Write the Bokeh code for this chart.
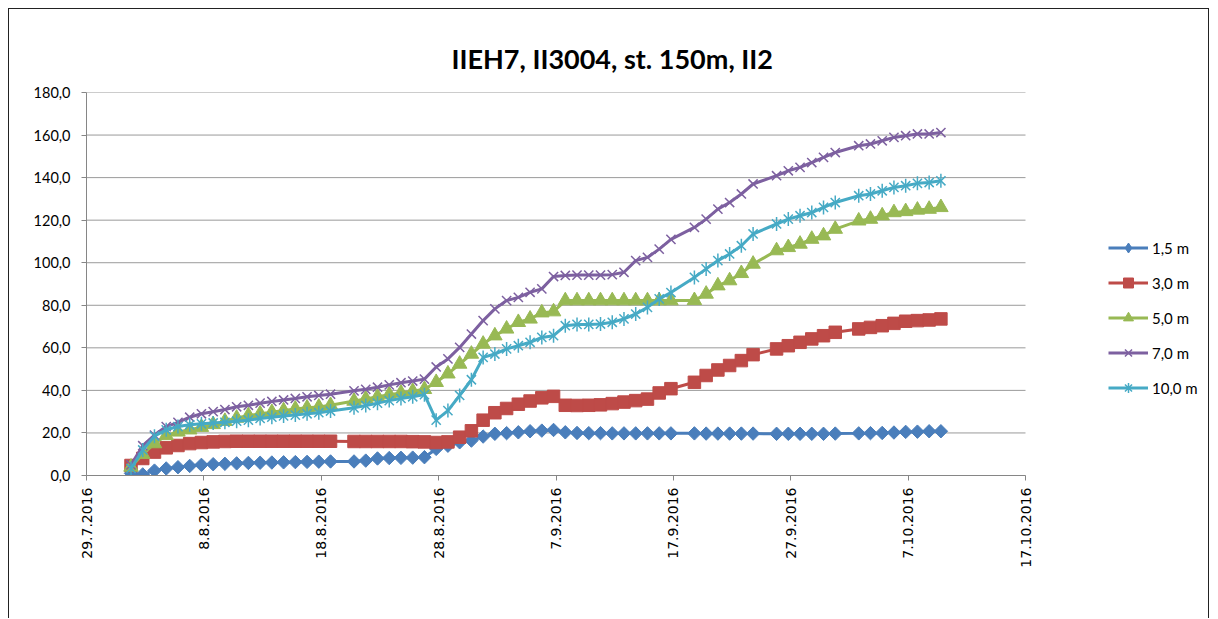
import numpy as np
import pandas as pd
from bokeh.plotting import figure
from bokeh.models import Range1d, FixedTicker, Legend, LegendItem
from bokeh.embed import file_html
from bokeh.resources import INLINE

title_text = "IIEH7, II3004, st. 150m, II2"

dates = [
    "2016-08-01", "2016-08-02", "2016-08-03", "2016-08-04", "2016-08-05", "2016-08-06",
    "2016-08-07", "2016-08-08", "2016-08-09", "2016-08-10", "2016-08-11", "2016-08-12",
    "2016-08-13", "2016-08-14", "2016-08-15", "2016-08-16", "2016-08-17", "2016-08-18",
    "2016-08-20", "2016-08-21", "2016-08-22", "2016-08-23", "2016-08-24", "2016-08-25",
    "2016-08-26",
    "2016-08-27", "2016-08-28", "2016-08-29", "2016-08-30", "2016-08-31", "2016-09-01",
    "2016-09-02", "2016-09-03", "2016-09-04", "2016-09-05", "2016-09-06", "2016-09-07",
    "2016-09-08", "2016-09-09", "2016-09-10", "2016-09-11", "2016-09-12", "2016-09-13",
    "2016-09-14", "2016-09-15", "2016-09-16",
    "2016-09-18", "2016-09-19", "2016-09-20", "2016-09-21", "2016-09-22", "2016-09-23",
    "2016-09-25", "2016-09-26", "2016-09-27", "2016-09-28", "2016-09-29", "2016-09-30",
    "2016-10-02", "2016-10-03", "2016-10-04", "2016-10-05", "2016-10-06", "2016-10-07",
    "2016-10-08", "2016-10-09",
]

depth_1_5 = [
    1.0, 0.5, 2.3, 3.3, 3.9, 4.5, 5.0, 5.3, 5.5, 5.7, 5.9, 6.0, 6.1, 6.2, 6.3, 6.4, 6.5, 6.6,
    6.6, 7.0, 8.0, 8.2, 8.3, 8.4, 8.6,
    12.5, 14.0, 15.6, 16.4, 18.3, 19.6, 19.9, 20.3, 20.8, 21.1, 21.4, 20.3,
    20.0, 19.9, 19.9, 19.8, 19.8, 19.8, 19.8, 19.8, 19.8,
    19.8, 19.7, 19.7, 19.7, 19.7, 19.7,
    19.6, 19.6, 19.6, 19.6, 19.6, 19.7,
    19.8, 19.9, 20.0, 20.2, 20.5, 20.6, 20.8, 20.8,
]
depth_3_0 = [
    4.7, 8.0, 11.0, 13.0, 14.1, 15.0, 15.5, 15.8, 16.0, 16.1, 16.1, 16.1, 16.1, 16.1, 16.1, 16.1, 16.1, 16.1,
    16.0, 16.0, 16.0, 16.0, 16.0, 15.9, 15.8,
    15.5, 15.8, 18.0, 21.0, 26.0, 29.5, 31.5, 33.5, 35.0, 36.5, 37.2, 33.0,
    32.9, 33.0, 33.2, 33.8, 34.5, 35.2, 35.9, 38.8, 40.8,
    43.8, 47.0, 49.6, 51.7, 54.0, 56.8,
    59.5, 61.0, 62.6, 64.2, 65.7, 67.3,
    68.9, 69.6, 70.4, 71.5, 72.5, 72.8, 73.1, 73.6,
]
depth_5_0 = [
    4.0, 10.0, 15.0, 18.8, 20.5, 21.5, 22.7, 24.0, 25.5, 27.0, 28.2, 29.0, 29.7, 30.5, 31.3, 31.8, 32.2, 33.0,
    35.0, 36.0, 37.0, 38.0, 38.8, 39.6, 40.5,
    43.8, 47.8, 52.4, 57.1, 61.8, 65.7, 68.9, 72.0, 73.6, 76.5, 77.0, 82.2,
    82.2, 82.2, 82.2, 82.2, 82.2, 82.2, 82.2, 82.2, 82.2,
    82.3, 85.3, 89.2, 91.6, 95.0, 99.4,
    105.7, 107.2, 108.8, 111.1, 112.7, 115.8,
    119.7, 120.5, 122.1, 123.6, 124.1, 124.8, 125.2, 126.0,
]
depth_7_0 = [
    5.0, 14.0, 19.0, 23.0, 25.0, 27.4, 29.0, 30.0, 31.0, 32.3, 33.0, 34.0, 34.8, 35.5, 36.2, 37.0, 37.6, 38.2,
    39.8, 40.5, 41.5, 42.6, 43.6, 44.4, 45.3,
    51.0, 54.8, 60.2, 66.5, 72.8, 78.3, 82.2, 83.7, 86.1, 87.7, 93.5, 94.0,
    94.2, 94.2, 94.2, 94.4, 95.5, 101.0, 102.5, 106.4, 111.0,
    116.6, 120.5, 125.2, 128.3, 132.3, 137.0,
    140.9, 143.2, 144.8, 147.1, 149.5, 151.8,
    155.0, 155.8, 157.3, 158.9, 159.7, 160.5, 160.5, 161.2,
]
depth_10_0 = [
    3.3, 12.0, 18.5, 21.5, 23.0, 23.8, 24.3, 24.7, 25.0, 25.5, 26.0, 26.8, 27.4, 28.0, 28.4, 29.0, 29.5, 30.3,
    31.8, 32.9, 34.0, 35.2, 36.2, 37.0, 38.0,
    26.0, 30.5, 37.6, 45.0, 55.5, 57.1, 59.5, 61.0, 62.6, 64.9, 65.7, 70.4,
    71.0, 71.0, 71.2, 72.0, 73.6, 75.9, 79.0, 83.0, 86.0,
    93.1, 97.1, 101.0, 104.1, 108.0, 113.5,
    118.2, 120.5, 122.1, 123.6, 126.0, 128.3,
    131.5, 132.3, 133.8, 135.4, 136.2, 137.3, 137.7, 138.5,
]

series_names = ["1,5 m", "3,0 m", "5,0 m", "7,0 m", "10,0 m"]
series_values = [depth_1_5, depth_3_0, depth_5_0, depth_7_0, depth_10_0]
series_colors = ["#4A7EBB", "#BE4B48", "#98B954", "#7D60A0", "#46AAC5"]

x_tick_labels = ["29.7.2016", "8.8.2016", "18.8.2016", "28.8.2016", "7.9.2016",
                 "17.9.2016", "27.9.2016", "7.10.2016", "17.10.2016"]
y_tick_values = [0, 20, 40, 60, 80, 100, 120, 140, 160, 180]
y_tick_labels = ["0,0", "20,0", "40,0", "60,0", "80,0", "100,0", "120,0", "140,0", "160,0", "180,0"]

# measurement time of day (evening readings)
x = pd.to_datetime(dates) + pd.Timedelta(hours=19)
tick_dt = pd.to_datetime(x_tick_labels, format="%d.%m.%Y")
tick_ms = [float(t.value // 10**6) for t in tick_dt]

# layout (pixels): the axis span is 939 px wide; the frame is extended to the
# right so that the legend can sit inside it
W, H = 1201, 610
B_LEFT, B_RIGHT, B_TOP, B_BOTTOM = 77, 1, 83, 144
AXIS_PX = 939
frame_px = W - B_LEFT - B_RIGHT
x_end = tick_ms[0] + (tick_ms[-1] - tick_ms[0]) * frame_px / AXIS_PX

p = figure(width=W, height=H, x_axis_type="datetime", output_backend="svg",
           toolbar_location=None, title=title_text,
           x_range=Range1d(tick_ms[0], x_end), y_range=Range1d(0, 180),
           min_border_left=B_LEFT, min_border_right=B_RIGHT,
           min_border_top=B_TOP, min_border_bottom=B_BOTTOM)
p.styles = {"border-top": "1px solid #222222", "border-left": "1px solid #222222",
            "border-right": "1px solid #222222", "margin-left": "8px", "margin-top": "8px"}
p.outline_line_color = None
p.background_fill_color = "white"
p.border_fill_color = "white"

p.title.align = "left"
p.title.offset = 365
p.title.standoff = 36
p.title.text_font = "Lato"
p.title.text_font_style = "bold"
p.title.text_font_size = "27px"
p.title.text_color = "#000000"

p.xgrid.grid_line_color = None
p.ygrid.grid_line_color = None
n_y = len(y_tick_values)
p.segment(x0=[tick_ms[0]] * n_y, y0=y_tick_values, x1=[tick_ms[-1]] * n_y, y1=y_tick_values,
          line_color="#9a9a9a", line_width=1)

p.yaxis.ticker = FixedTicker(ticks=y_tick_values)
p.yaxis.major_label_overrides = {v: s for v, s in zip(y_tick_values, y_tick_labels)}
p.xaxis.ticker = FixedTicker(ticks=tick_ms)
p.xaxis.major_label_overrides = {v: s for v, s in zip(tick_ms, x_tick_labels)}
p.xaxis.major_label_orientation = np.pi / 2
p.xaxis.bounds = (tick_ms[0], tick_ms[-1])

for ax in (p.xaxis[0], p.yaxis[0]):
    ax.axis_line_color = "#868686"
    ax.major_tick_line_color = "#868686"
    ax.major_tick_out = 5
    ax.major_tick_in = 0
    ax.minor_tick_line_color = None
    ax.major_label_text_color = "#000000"
p.yaxis.major_label_text_font = "Lato"
p.yaxis.major_label_text_font_size = "14.5px"
p.yaxis.major_label_standoff = 11
p.xaxis.major_label_text_font = "DejaVu Sans"
p.xaxis.major_label_text_font_size = "14px"
p.xaxis.major_label_standoff = 7

# legend-key proxies: one entry, no visible position (NaN), only used to draw legend glyphs
key_x = x[:1]
key_y = [np.nan]

items = []
for i, (name, vals, col) in enumerate(zip(series_names, series_values, series_colors)):
    rl = p.line(x, vals, line_color=col, line_width=3)
    if i == 0:
        p.scatter(x, vals, marker="square", angle=np.pi / 4, size=9.5, fill_color=col, line_color=col)
        key = p.scatter(key_x, key_y, marker="diamond", size=12, fill_color=col, line_color=col)
    elif i == 1:
        key = p.scatter(x, vals, marker="square", size=12.5, fill_color=col, line_color=col)
    elif i == 2:
        key = p.scatter(x, vals, marker="triangle", size=14.5, fill_color=col, line_color=col)
    elif i == 3:
        key = p.scatter(x, vals, marker="x", size=13, line_color=col, line_width=1.5)
    else:
        p.scatter(x, vals, marker="x", size=13, line_color=col, line_width=1.5)
        p.scatter(x, vals, marker="dash", angle=np.pi / 2, size=14, line_color=col, line_width=1.5)
        key = p.scatter(key_x, key_y, marker="asterisk", size=12, line_color=col, line_width=1.5)
    items.append(LegendItem(label=name, renderers=[rl, key]))

legend = Legend(items=items, location=(1022, 75), padding=0, margin=0, spacing=10,
                label_height=25, glyph_height=25, glyph_width=40, label_standoff=4,
                border_line_color=None, background_fill_alpha=0,
                label_text_font="Lato", label_text_font_size="15px", label_text_color="#000000")
p.add_layout(legend, "center")

open("out.html", "w").write(file_html(p, INLINE))
